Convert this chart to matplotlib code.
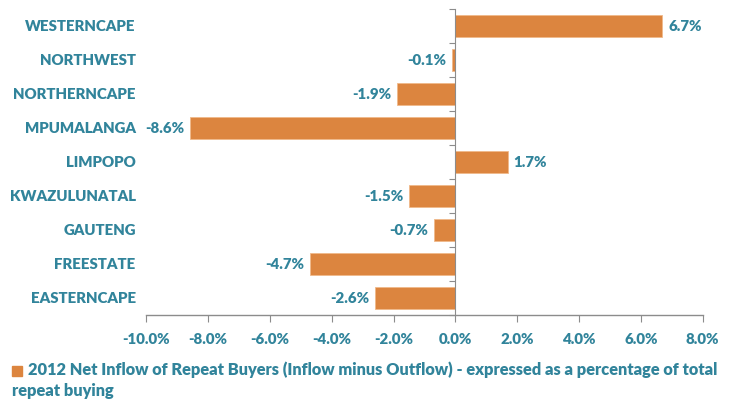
import matplotlib.pyplot as plt
import matplotlib.transforms as mtransforms
from matplotlib.patches import Rectangle
import numpy as np

provinces = ["WESTERNCAPE", "NORTHWEST", "NORTHERNCAPE", "MPUMALANGA", "LIMPOPO",
             "KWAZULUNATAL", "GAUTENG", "FREESTATE", "EASTERNCAPE"]
net_inflow = [6.7, -0.1, -1.9, -8.6, 1.7, -1.5, -0.7, -4.7, -2.6]
x_ticks = [-10, -8, -6, -4, -2, 0, 2, 4, 6, 8]
legend_line1 = "2012 Net Inflow of Repeat Buyers (Inflow minus Outflow) - expressed as a percentage of total"
legend_line2 = "repeat buying"

TEAL = "#31849B"
ORANGE = "#DC853F"
GREY = "#8C8C8C"
WEIGHT = "heavy"

plt.rcParams["font.family"] = ["Lato", "DejaVu Sans"]

fig = plt.figure(figsize=(7.35, 4.01), dpi=100)
ax = fig.add_axes([0.199, 0.214, 0.757, 0.763])

y = np.arange(len(provinces))
ax.barh(y, net_inflow, height=0.65, color=ORANGE, edgecolor="#F0B98A", linewidth=0.6, zorder=2)
ax.set_ylim(len(provinces) - 0.5, -0.5)
ax.set_xlim(-10, 8)

# value labels
for yi, v in zip(y, net_inflow):
    ha = "left" if v >= 0 else "right"
    off = 0.18 if v >= 0 else -0.18
    ax.text(v + off, yi, f"{v:.1f}%", ha=ha, va="center", color=TEAL,
            fontsize=10.8, fontweight=WEIGHT)

# axes styling
for s in ["top", "right"]:
    ax.spines[s].set_visible(False)
ax.spines["left"].set_position(("data", 0))
ax.spines["left"].set_color(GREY)
ax.spines["bottom"].set_color(GREY)
ax.spines["bottom"].set_linewidth(1.0)
ax.spines["bottom"].set_bounds(-10, 8)

ax.set_xticks(x_ticks)
ax.set_xticklabels([f"{t:.1f}%" for t in x_ticks], color=TEAL, fontsize=10.8, fontweight=WEIGHT)
ax.tick_params(axis="x", direction="out", length=5, color=GREY, pad=8)

ax.set_yticks(np.arange(-0.5, len(provinces), 1.0))
ax.set_yticklabels([])
ax.tick_params(axis="y", direction="out", length=4, color=GREY)

# category labels at left of the plot area
trans = mtransforms.blended_transform_factory(ax.transAxes, ax.transData)
for yi, name in zip(y, provinces):
    ax.text(-0.019, yi, name, transform=trans, ha="right", va="center",
            color=TEAL, fontsize=10.8, fontweight=WEIGHT)

# legend
fig.patches.append(Rectangle((12 / 735, 1 - 376 / 401), 10 / 735, 10 / 401,
                             transform=fig.transFigure, color=ORANGE))
fig.text(28 / 735, 1 - 370 / 401, legend_line1, ha="left", va="center",
         color=TEAL, fontsize=11.8, fontweight=WEIGHT)
fig.text(12 / 735, 1 - 391 / 401, legend_line2, ha="left", va="center",
         color=TEAL, fontsize=11.8, fontweight=WEIGHT)

fig.savefig("out.png", dpi=100)
